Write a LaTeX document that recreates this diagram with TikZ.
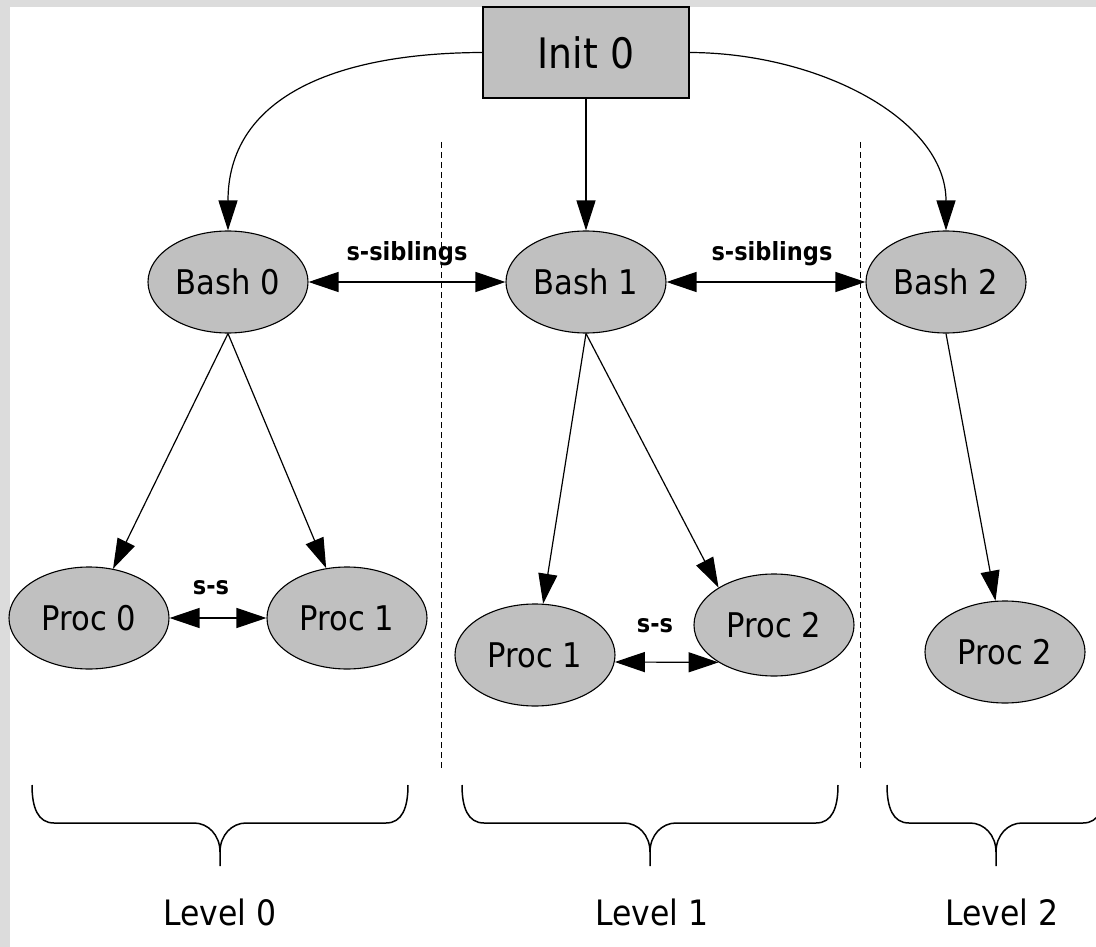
\documentclass[tikz,border=0pt]{standalone}
\usepackage{fontspec}
\setmainfont{DejaVu Sans}[FakeStretch=0.9]
\usetikzlibrary{arrows.meta,shapes.geometric}
\definecolor{nodegray}{HTML}{C0C0C0}
\definecolor{framegray}{HTML}{DCDCDC}
\newcommand\lvlbrace[3]{% #1 name prefix, #2 left x, #3 right x
  \pgfmathsetmacro\brmid{(#2+#3)/2}
  \draw[bracestyle] (#2,785) .. controls (#2,808) and ({#2+6},823) .. ({#2+22},823)
     -- ({\brmid-26},823) .. controls ({\brmid-12},823) and (\brmid,835) .. (\brmid,852) -- (\brmid,866);
  \draw[bracestyle] (#3,785) .. controls (#3,808) and ({#3-6},823) .. ({#3-22},823)
     -- ({\brmid+26},823) .. controls ({\brmid+12},823) and (\brmid,835) .. (\brmid,852);
}
\begin{document}
\begin{tikzpicture}[x=1pt,y=-1pt,
  proc/.style={ellipse,draw=black,line width=1.1pt,fill=nodegray,minimum width=160pt,minimum height=102pt,inner sep=0pt,font=\fontsize{34}{40}\selectfont},
  initbox/.style={rectangle,draw=black,line width=1.5pt,fill=nodegray,minimum width=206pt,minimum height=91pt,inner sep=0pt,font=\fontsize{42}{48}\selectfont},
  edge/.style={line width=1.2pt,-{Triangle[length=30pt,width=19pt]}},
  sib/.style={line width=1.2pt,{Triangle[length=30pt,width=20pt]}-{Triangle[length=30pt,width=20pt]}},
  lbl/.style={font=\fontsize{25}{30}\selectfont\bfseries,inner sep=0pt},
  lvl/.style={font=\fontsize{35}{40}\selectfont,inner sep=0pt},
  sepline/.style={line width=1pt,dash pattern=on 6pt off 4pt},
  bracestyle/.style={line width=1.5pt}]
\useasboundingbox (0,0) rectangle (1096,947);
\clip (0,0) rectangle (1096,947);
\fill[framegray] (0,0) rectangle (1096,947);
\fill[white] (10,7) rectangle (1096,947);

% separators
\draw[sepline] (441,142) -- (441,768);
\draw[sepline] (860,142) -- (860,768);

% nodes
\node[initbox] (init) at (586,52.5) {Init 0};
\node[proc] (b0) at (228,282) {Bash 0};
\node[proc] (b1) at (586,282) {Bash 1};
\node[proc] (b2) at (946,282) {Bash 2};
\node[proc] (p0) at (89,618) {Proc 0};
\node[proc] (p1a) at (347,618) {Proc 1};
\node[proc] (p1b) at (535,655) {Proc 1};
\node[proc] (p2b) at (774,625) {Proc 2};
\node[proc] (p2c) at (1005,652) {Proc 2};

% edges from init
\draw[edge] (init.west) .. controls (330,53) and (228,100) .. (b0.north);
\draw[edge] (init.south) -- (b1.north);
\draw[edge] (init.east) .. controls (820,53) and (946,120) .. (b2.north);

% bash to procs
\draw[edge] (b0.south) -- (p0);
\draw[edge] (b0.south) -- (p1a);
\draw[edge] (b1.south) -- (p1b);
\draw[edge] (b1.south) -- (p2b.146.5);
\draw[edge] (b2.south) -- (p2c);

% siblings
\draw[sib] (b0.east) -- (b1.west);
\draw[sib] (b1.east) -- (b2.west);
\draw[sib] (p0.east) -- (p1a.west);
\draw[sib] (p1b.-5) -- (p2b.214);
\node[lbl] (s1) at (407,254) {s-siblings};
\node[lbl] (s2) at (772,254) {s-siblings};
\node[lbl] (ss1) at (211,588) {s-s};
\node[lbl] (ss2) at (655,626) {s-s};

% level braces
\lvlbrace{a}{32}{408}
\lvlbrace{b}{462}{838}
\lvlbrace{c}{887}{1105}
\node[lvl] (l0) at (220,912) {Level 0};
\node[lvl] (l1) at (652,912) {Level 1};
\node[lvl] (l2) at (1002,912) {Level 2};
\end{tikzpicture}
\end{document}
